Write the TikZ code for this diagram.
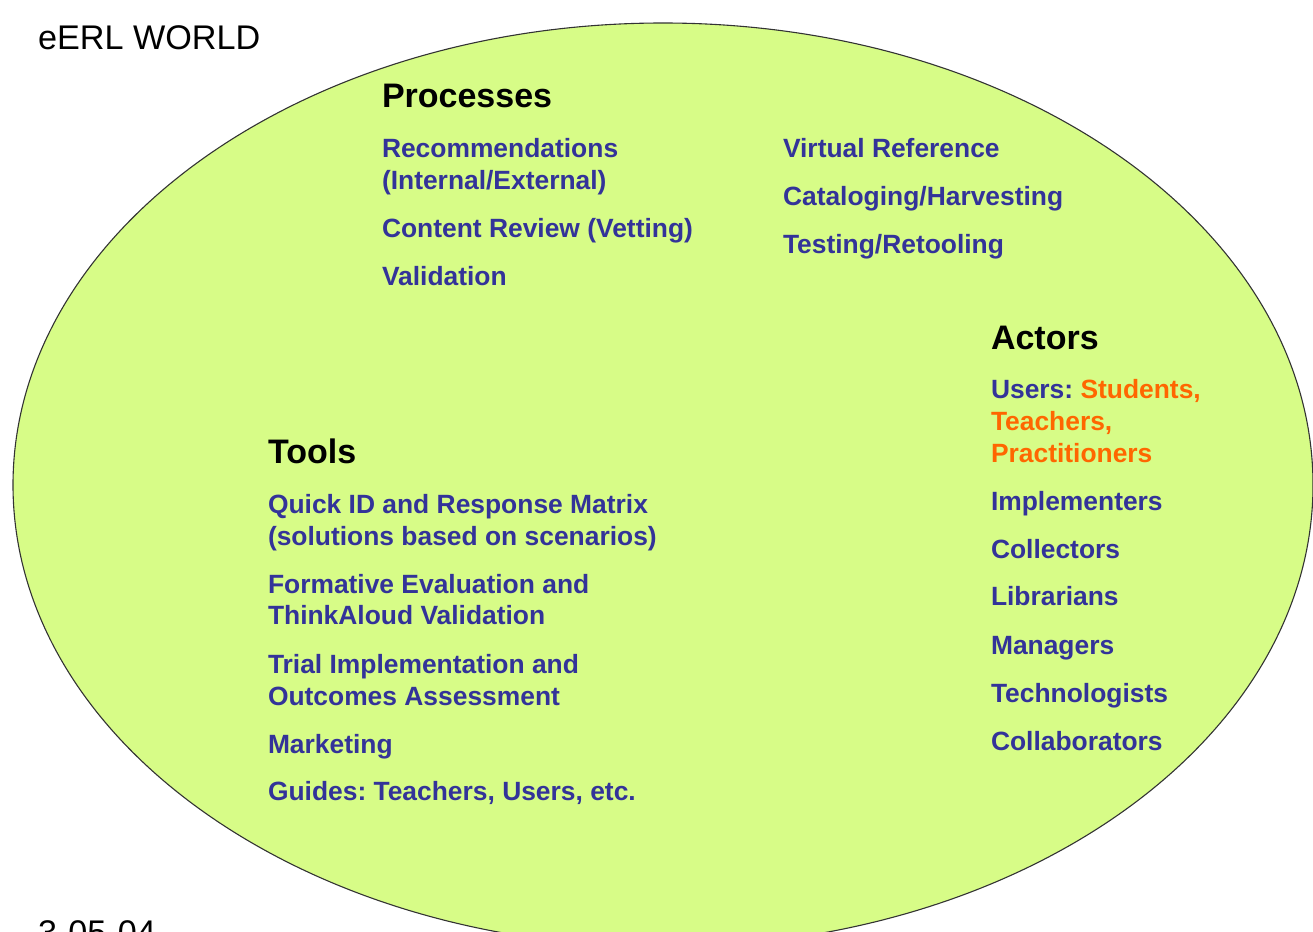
\documentclass[tikz,border=0pt]{standalone}
\usepackage{fontspec}
\setmainfont{Liberation Sans}
\frenchspacing
\definecolor{worldfill}{RGB}{215,252,135}
\definecolor{itemblue}{RGB}{51,51,153}
\definecolor{useorange}{RGB}{255,102,0}
\begin{document}
\begin{tikzpicture}[x=1pt,y=-1pt,
  every node/.style={inner sep=0pt,outer sep=0pt,anchor=base west},
  titletext/.style={font=\fontsize{34.2}{36}\selectfont,text=black},
  headtext/.style={font=\fontsize{34}{38}\selectfont\bfseries,text=black},
  itemtext/.style={font=\fontsize{26.4}{32}\selectfont\bfseries,text=itemblue},
  usertext/.style={font=\fontsize{26.4}{32}\selectfont\bfseries,text=useorange}]
\useasboundingbox (0,0) rectangle (1313,931);
\clip (0,0) rectangle (1313,931);
% the eERL world
\filldraw[fill=worldfill,draw=black!80,line width=1.1pt] (663,485) ellipse [x radius=650, y radius=462];
\node[titletext] (title) at (38,50) {eERL WORLD};
\node[titletext] (date) at (38,944) {3-05-04};
% processes
\node[headtext] (proc) at (382,107) {Processes};
\node[itemtext] (p1) at (382,157) {Recommendations};
\node[itemtext] (p1b) at (382,189) {(Internal/External)};
\node[itemtext] (p2) at (382,237) {Content Review (Vetting)};
\node[itemtext] (p3) at (382,285) {Validation};
\node[itemtext] (p4) at (783,157) {Virtual Reference};
\node[itemtext] (p5) at (783,205) {Cataloging/Harvesting};
\node[itemtext] (p6) at (783,253) {Testing/Retooling};
% actors
\node[headtext] (act) at (991,349) {Actors};
\node[itemtext] (a1) at (991,398) {Users: \textcolor{useorange}{Students,}};
\node[usertext] (a1b) at (991,430) {Teachers,};
\node[usertext] (a1c) at (991,462) {Practitioners};
\node[itemtext] (a2) at (991,510) {Implementers};
\node[itemtext] (a3) at (991,558) {Collectors};
\node[itemtext] (a4) at (991,605) {Librarians};
\node[itemtext] (a5) at (991,654) {Managers};
\node[itemtext] (a6) at (991,702) {Technologists};
\node[itemtext] (a7) at (991,750) {Collaborators};
% tools
\node[headtext] (tools) at (268,463) {Tools};
\node[itemtext] (t1) at (268,513) {Quick ID and Response Matrix};
\node[itemtext] (t1b) at (268,545) {(solutions based on scenarios)};
\node[itemtext] (t2) at (268,593) {Formative Evaluation and};
\node[itemtext] (t2b) at (268,624) {ThinkAloud Validation};
\node[itemtext] (t3) at (268,673) {Trial Implementation and};
\node[itemtext] (t3b) at (268,705) {Outcomes Assessment};
\node[itemtext] (t4) at (268,753) {Marketing};
\node[itemtext] (t5) at (268,800) {Guides: Teachers, Users, etc.};
\end{tikzpicture}
\end{document}
